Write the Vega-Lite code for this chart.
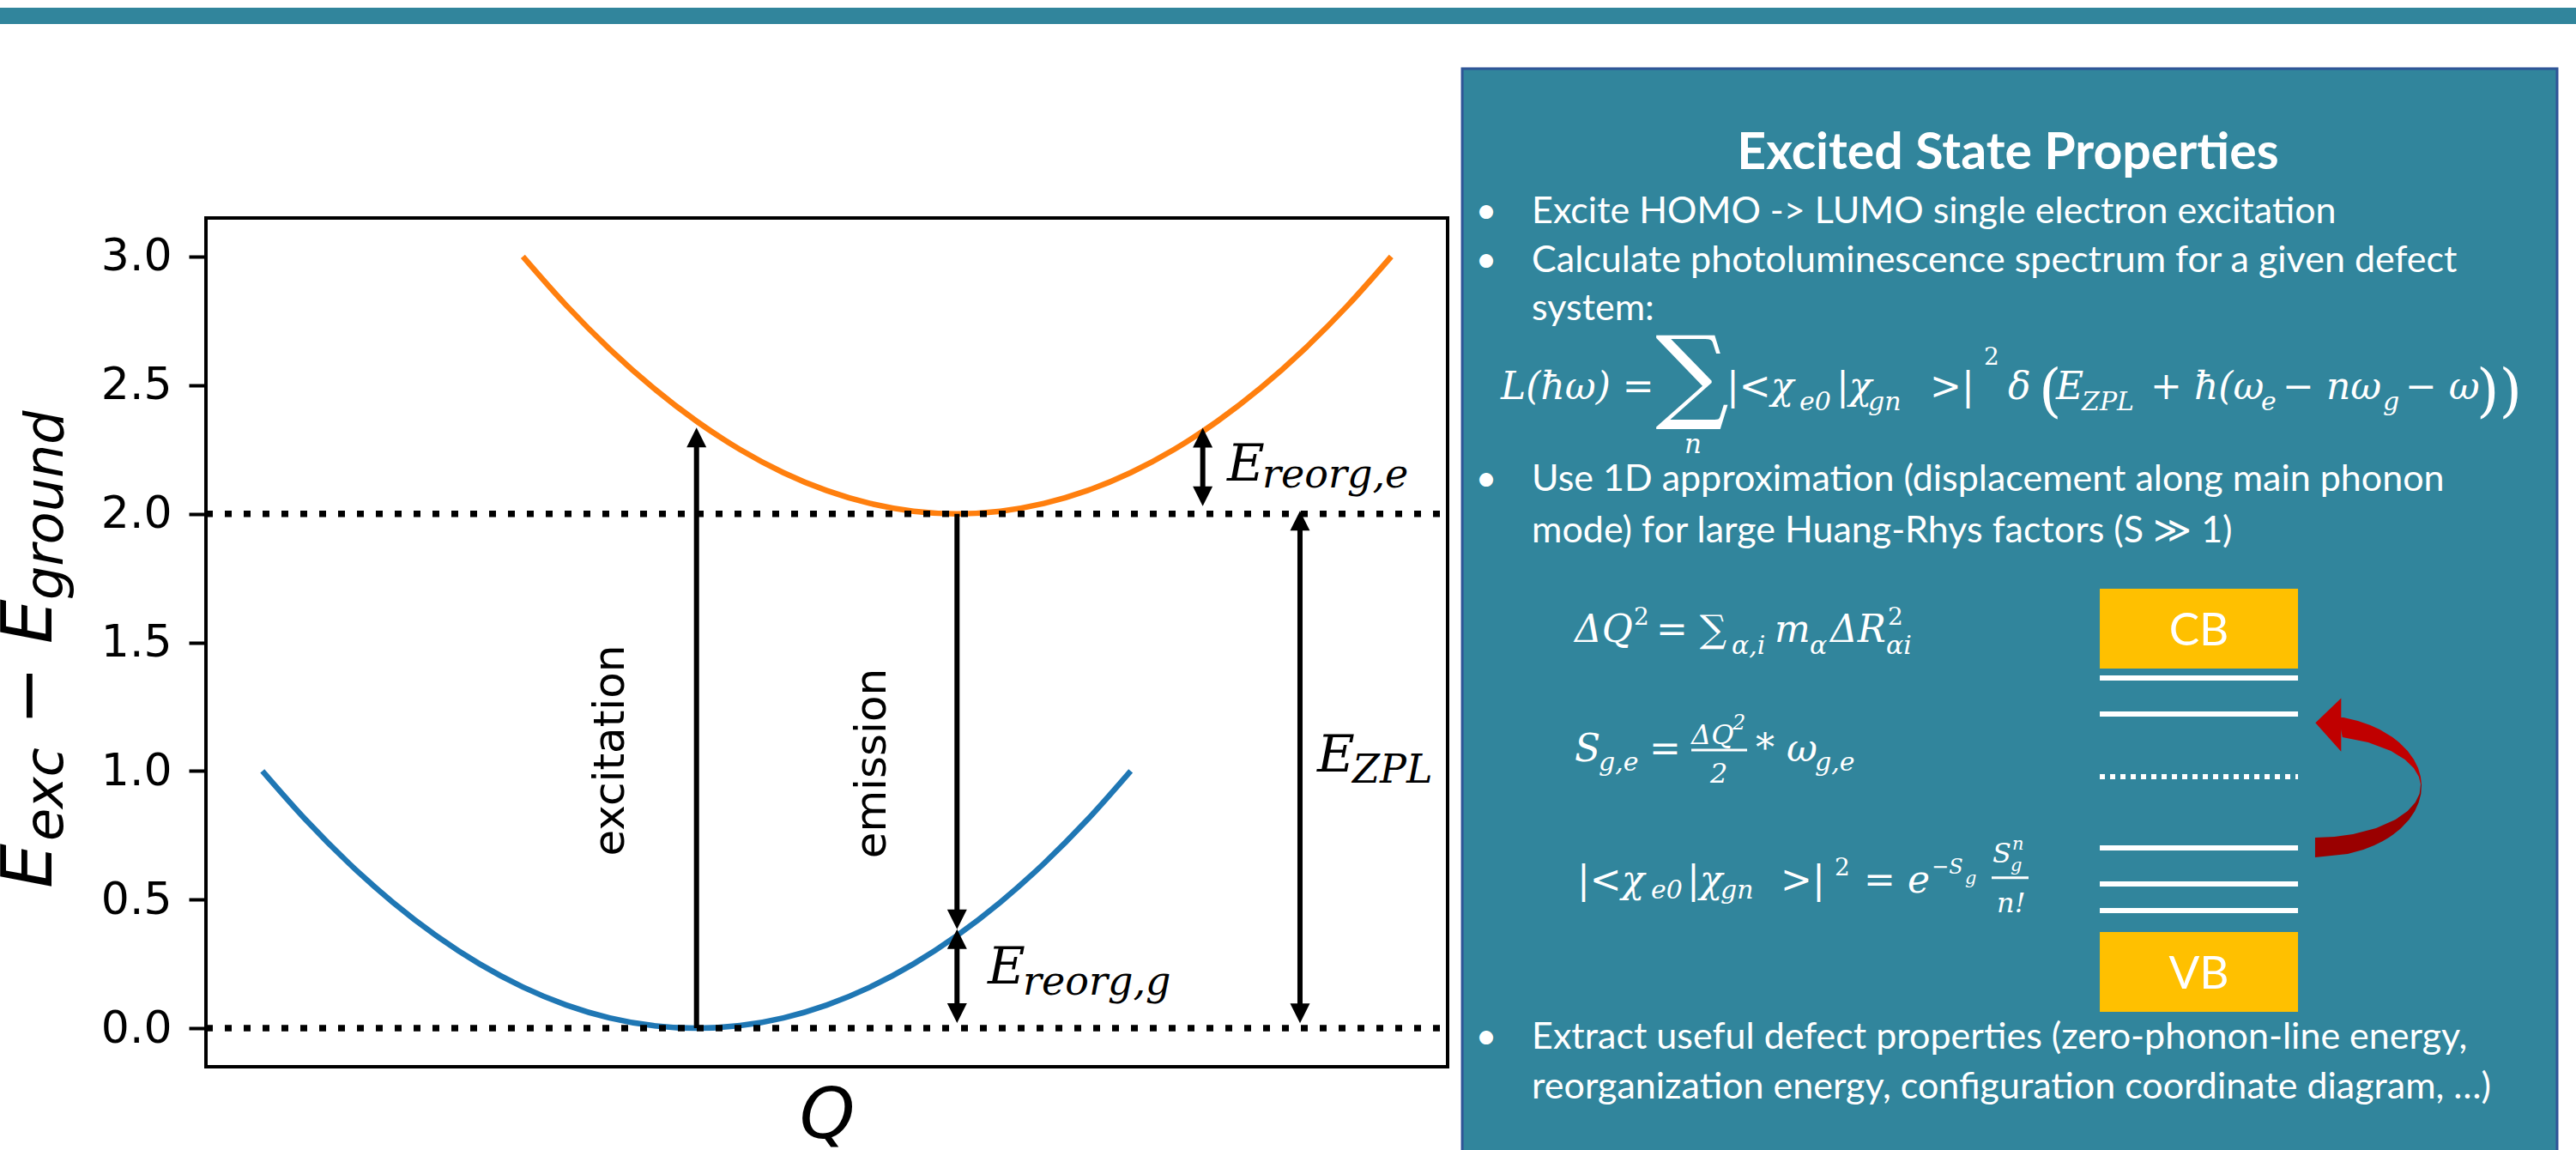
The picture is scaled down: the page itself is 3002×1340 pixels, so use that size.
{
  "$schema": "https://vega.github.io/schema/vega-lite/v6.json",
  "width": 1447,
  "height": 989,
  "autosize": {"type": "none"},
  "padding": {"left": 240, "top": 254, "right": 1315, "bottom": 97},
  "background": "white",
  "config": {"view": {"stroke": "black", "strokeWidth": 4}, "font": "DejaVu Sans"},
  "datasets": {
    "shapes": [
      {"role": "topbar", "Q": -1.7, "Q2": 4.4, "E": 3.9673, "E2": 3.9039},
      {"role": "panel", "Q": 1.7637, "Q2": 4.2856, "E": 3.7304, "E2": -0.5},
      {"role": "band", "Q": 3.2322, "Q2": 3.6888, "E": 1.7084, "E2": 1.3981},
      {"role": "band", "Q": 3.2322, "Q2": 3.6888, "E": 0.3737, "E2": 0.0634}
    ],
    "curves": [
      {"curve": "ground", "Q": -1.0, "E": 1.0}, {"curve": "ground", "Q": -0.9, "E": 0.81}, {"curve": "ground", "Q": -0.8, "E": 0.64},
      {"curve": "ground", "Q": -0.7, "E": 0.49}, {"curve": "ground", "Q": -0.6, "E": 0.36}, {"curve": "ground", "Q": -0.5, "E": 0.25},
      {"curve": "ground", "Q": -0.4, "E": 0.16}, {"curve": "ground", "Q": -0.3, "E": 0.09}, {"curve": "ground", "Q": -0.2, "E": 0.04},
      {"curve": "ground", "Q": -0.1, "E": 0.01}, {"curve": "ground", "Q": 0.0, "E": 0.0}, {"curve": "ground", "Q": 0.1, "E": 0.01},
      {"curve": "ground", "Q": 0.2, "E": 0.04}, {"curve": "ground", "Q": 0.3, "E": 0.09}, {"curve": "ground", "Q": 0.4, "E": 0.16},
      {"curve": "ground", "Q": 0.5, "E": 0.25}, {"curve": "ground", "Q": 0.6, "E": 0.36}, {"curve": "ground", "Q": 0.7, "E": 0.49},
      {"curve": "ground", "Q": 0.8, "E": 0.64}, {"curve": "ground", "Q": 0.9, "E": 0.81}, {"curve": "ground", "Q": 1.0, "E": 1.0},
      {"curve": "excited", "Q": -0.4, "E": 3.0}, {"curve": "excited", "Q": -0.3, "E": 2.81}, {"curve": "excited", "Q": -0.2, "E": 2.64},
      {"curve": "excited", "Q": -0.1, "E": 2.49}, {"curve": "excited", "Q": 0.0, "E": 2.36}, {"curve": "excited", "Q": 0.1, "E": 2.25},
      {"curve": "excited", "Q": 0.2, "E": 2.16}, {"curve": "excited", "Q": 0.3, "E": 2.09}, {"curve": "excited", "Q": 0.4, "E": 2.04},
      {"curve": "excited", "Q": 0.5, "E": 2.01}, {"curve": "excited", "Q": 0.6, "E": 2.0}, {"curve": "excited", "Q": 0.7, "E": 2.01},
      {"curve": "excited", "Q": 0.8, "E": 2.04}, {"curve": "excited", "Q": 0.9, "E": 2.09}, {"curve": "excited", "Q": 1.0, "E": 2.16},
      {"curve": "excited", "Q": 1.1, "E": 2.25}, {"curve": "excited", "Q": 1.2, "E": 2.36}, {"curve": "excited", "Q": 1.3, "E": 2.49},
      {"curve": "excited", "Q": 1.4, "E": 2.64}, {"curve": "excited", "Q": 1.5, "E": 2.81}, {"curve": "excited", "Q": 1.6, "E": 3.0}
    ],
    "levels": [
      {"Q": -1.13, "Q2": 1.73, "E": 0.0},
      {"Q": -1.13, "Q2": 1.73, "E": 2.0}
    ],
    "shafts": [
      {"arrow": "excitation", "Q": 0.0, "E": 0.0, "E2": 2.335, "kind": "up"},
      {"arrow": "emission", "Q": 0.6, "E": 0.385, "E2": 2.0, "kind": "down"},
      {"arrow": "reorg_g", "Q": 0.6, "E": 0.02, "E2": 0.385, "kind": "both"},
      {"arrow": "reorg_e", "Q": 1.166, "E": 2.03, "E2": 2.334, "kind": "both"},
      {"arrow": "zpl", "Q": 1.39, "E": 0.019, "E2": 2.011, "kind": "both"}
    ],
    "heads": [
      {"Q": 0.0, "E": 2.335, "dir": "up"},
      {"Q": 0.6, "E": 0.385, "dir": "down"},
      {"Q": 0.6, "E": 0.385, "dir": "up"},
      {"Q": 0.6, "E": 0.02, "dir": "down"},
      {"Q": 1.166, "E": 2.334, "dir": "up"},
      {"Q": 1.166, "E": 2.03, "dir": "down"},
      {"Q": 1.39, "E": 2.011, "dir": "up"},
      {"Q": 1.39, "E": 0.019, "dir": "down"}
    ],
    "texts": [
      {"role": "vlabel", "txt": "excitation", "Q": -0.1674, "E": 1.0794},
      {"role": "vlabel", "txt": "emission", "Q": 0.4354, "E": 1.0294},
      {"role": "ytitle", "txt": "E", "Q": -1.4857, "E": 0.5439},
      {"role": "ytitle", "txt": "− E", "Q": -1.4857, "E": 1.1778},
      {"role": "ytitleSub", "txt": "exc", "Q": -1.4601, "E": 0.7274},
      {"role": "ytitleSub", "txt": "ground", "Q": -1.4601, "E": 1.665},
      {"role": "eMain", "txt": "E", "Q": 1.2221, "E": 2.1288},
      {"role": "eSub", "txt": "reorg,e", "Q": 1.3033, "E": 2.1021},
      {"role": "eMain", "txt": "E", "Q": 1.4296, "E": 0.9977},
      {"role": "eSub", "txt": "ZPL", "Q": 1.5108, "E": 0.9543},
      {"role": "eMain", "txt": "E", "Q": 0.6706, "E": 0.1735},
      {"role": "eSub", "txt": "reorg,g", "Q": 0.7518, "E": 0.1301},
      {"role": "title", "txt": "Excited State Properties", "Q": 3.0207, "E": 3.3411},
      {"role": "bullet", "txt": "•", "Q": 1.819, "E": 3.1298},
      {"role": "bullet", "txt": "•", "Q": 1.819, "E": 2.9407},
      {"role": "bullet", "txt": "•", "Q": 1.819, "E": 2.0898},
      {"role": "bullet", "txt": "•", "Q": 1.819, "E": -0.0791},
      {"role": "body", "txt": "Excite HOMO -> LUMO single electron excitation", "Q": 1.9238, "E": 3.1298},
      {"role": "body", "txt": "Calculate photoluminescence spectrum for a given defect", "Q": 1.9238, "E": 2.9407},
      {"role": "body", "txt": "system:", "Q": 1.9238, "E": 2.7528},
      {"role": "body", "txt": "Use 1D approximation (displacement along main phonon", "Q": 1.9238, "E": 2.0898},
      {"role": "body", "txt": "mode) for large Huang-Rhys factors (S ≫ 1)", "Q": 1.9238, "E": 1.8896},
      {"role": "body", "txt": "Extract useful defect properties (zero-phonon-line energy,", "Q": 1.9238, "E": -0.0791},
      {"role": "body", "txt": "reorganization energy, configuration coordinate diagram, …)", "Q": 1.9238, "E": -0.2736},
      {"role": "band", "txt": "CB", "Q": 3.4605, "E": 1.4898},
      {"role": "band", "txt": "VB", "Q": 3.4605, "E": 0.1552},
      {"role": "eqMain", "txt": "L(ħω) =", "Q": 1.8526, "E": 2.4458},
      {"role": "eqMain", "txt": "|<χ", "Q": 2.3724, "E": 2.4458},
      {"role": "eqMain", "txt": "|χ", "Q": 2.6254, "E": 2.4458},
      {"role": "eqMain", "txt": ">|", "Q": 2.8409, "E": 2.4458},
      {"role": "eqMain", "txt": "δ", "Q": 3.0207, "E": 2.4458},
      {"role": "eqMain", "txt": "E", "Q": 3.1314, "E": 2.4458},
      {"role": "eqMain", "txt": "+ ħ(ω", "Q": 3.3488, "E": 2.4458},
      {"role": "eqMain", "txt": "− nω", "Q": 3.6532, "E": 2.4458},
      {"role": "eqMain", "txt": "− ω", "Q": 3.9358, "E": 2.4458},
      {"role": "eqSub", "txt": "e0", "Q": 2.5404, "E": 2.4024},
      {"role": "eqSub", "txt": "gn", "Q": 2.6985, "E": 2.4024},
      {"role": "eqSub", "txt": "ZPL", "Q": 3.1907, "E": 2.4024},
      {"role": "eqSub", "txt": "e", "Q": 3.6038, "E": 2.4024},
      {"role": "eqSub", "txt": "g", "Q": 3.8844, "E": 2.4024},
      {"role": "eqSup", "txt": "2", "Q": 2.9654, "E": 2.5793},
      {"role": "eqSum", "txt": "∑", "Q": 2.2933, "E": 2.5258},
      {"role": "eqUnder", "txt": "n", "Q": 2.2953, "E": 2.2356},
      {"role": "eqParen", "txt": "(", "Q": 3.0918, "E": 2.4024},
      {"role": "eqParen", "txt": "))", "Q": 4.0998, "E": 2.4024},
      {"role": "eqMain", "txt": "ΔQ", "Q": 2.0226, "E": 1.5015},
      {"role": "eqSup", "txt": "2", "Q": 2.159, "E": 1.5683},
      {"role": "eqMain", "txt": "= ∑", "Q": 2.2103, "E": 1.5015},
      {"role": "eqSub", "txt": "α,i", "Q": 2.3843, "E": 1.4548},
      {"role": "eqMain", "txt": "m", "Q": 2.4831, "E": 1.5015},
      {"role": "eqSub", "txt": "α", "Q": 2.5642, "E": 1.4548},
      {"role": "eqMain", "txt": "ΔR", "Q": 2.6116, "E": 1.5015},
      {"role": "eqSup", "txt": "2", "Q": 2.7441, "E": 1.5683},
      {"role": "eqSub", "txt": "αi", "Q": 2.7401, "E": 1.4548},
      {"role": "eqMain", "txt": "S", "Q": 2.0226, "E": 1.0377},
      {"role": "eqSub", "txt": "g,e", "Q": 2.078, "E": 1.001},
      {"role": "eqMain", "txt": "=", "Q": 2.1945, "E": 1.0377},
      {"role": "eqFrac", "txt": "ΔQ", "Q": 2.2914, "E": 1.1045},
      {"role": "eqTiny", "txt": "2", "Q": 2.3863, "E": 1.1612},
      {"role": "eqFrac", "txt": "2", "Q": 2.3349, "E": 0.9543},
      {"role": "eqMain", "txt": "* ω", "Q": 2.4396, "E": 1.0377},
      {"role": "eqSub", "txt": "g,e", "Q": 2.576, "E": 1.001},
      {"role": "eqMain", "txt": "|<χ", "Q": 2.0285, "E": 0.5272},
      {"role": "eqSub", "txt": "e0", "Q": 2.1985, "E": 0.5038},
      {"role": "eqMain", "txt": "|χ", "Q": 2.2815, "E": 0.5272},
      {"role": "eqSub", "txt": "gn", "Q": 2.3586, "E": 0.5038},
      {"role": "eqMain", "txt": ">|", "Q": 2.4969, "E": 0.5272},
      {"role": "eqSup", "txt": "2", "Q": 2.6215, "E": 0.5939},
      {"role": "eqMain", "txt": "= e", "Q": 2.6887, "E": 0.5272},
      {"role": "eqTiny", "txt": "−S", "Q": 2.8449, "E": 0.6006},
      {"role": "eqTiny2", "txt": "g", "Q": 2.9219, "E": 0.5606},
      {"role": "eqFrac", "txt": "S", "Q": 2.9851, "E": 0.644},
      {"role": "eqTiny2", "txt": "n", "Q": 3.0306, "E": 0.694},
      {"role": "eqTiny2", "txt": "g", "Q": 3.0267, "E": 0.6106},
      {"role": "eqFrac", "txt": "n!", "Q": 2.995, "E": 0.4505}
    ],
    "bars": [
      {"Q": 2.2914, "Q2": 2.4199, "E": 1.0811},
      {"Q": 2.9831, "Q2": 3.0681, "E": 0.5849}
    ],
    "statelines": [
      {"name": "c1", "Q": 3.2322, "Q2": 3.6888, "E": 1.3614},
      {"name": "c2", "Q": 3.2322, "Q2": 3.6888, "E": 1.2212},
      {"name": "mid", "Q": 3.2322, "Q2": 3.6888, "E": 0.9777},
      {"name": "v1", "Q": 3.2322, "Q2": 3.6888, "E": 0.7007},
      {"name": "v2", "Q": 3.2322, "Q2": 3.6888, "E": 0.5606},
      {"name": "v3", "Q": 3.2322, "Q2": 3.6888, "E": 0.4571}
    ],
    "redband": [
      {"part": "upper", "E": 1.2079, "Q": 3.7876, "Q2": 3.7935},
      {"part": "upper", "E": 1.1945, "Q": 3.7876, "Q2": 3.8267},
      {"part": "upper", "E": 1.1779, "Q": 3.7876, "Q2": 3.8552},
      {"part": "upper", "E": 1.1612, "Q": 3.7876, "Q2": 3.877},
      {"part": "upper", "E": 1.1311, "Q": 3.7911, "Q2": 3.9064},
      {"part": "upper", "E": 1.1111, "Q": 3.8504, "Q2": 3.9216},
      {"part": "upper", "E": 1.0778, "Q": 3.903, "Q2": 3.9414},
      {"part": "upper", "E": 1.0444, "Q": 3.935, "Q2": 3.9556},
      {"part": "upper", "E": 1.011, "Q": 3.9554, "Q2": 3.9655},
      {"part": "upper", "E": 0.9777, "Q": 3.967, "Q2": 3.9712},
      {"part": "upper", "E": 0.9476, "Q": 3.9714, "Q2": 3.9734},
      {"part": "lower", "E": 0.9476, "Q": 3.9714, "Q2": 3.9734},
      {"part": "lower", "E": 0.9109, "Q": 3.9686, "Q2": 3.972},
      {"part": "lower", "E": 0.8776, "Q": 3.9589, "Q2": 3.9668},
      {"part": "lower", "E": 0.8442, "Q": 3.9412, "Q2": 3.9579},
      {"part": "lower", "E": 0.8108, "Q": 3.9131, "Q2": 3.9447},
      {"part": "lower", "E": 0.7775, "Q": 3.8686, "Q2": 3.9261},
      {"part": "lower", "E": 0.7541, "Q": 3.8156, "Q2": 3.9091},
      {"part": "lower", "E": 0.7441, "Q": 3.7725, "Q2": 3.9006},
      {"part": "lower", "E": 0.7407, "Q": 3.7282, "Q2": 3.8977},
      {"part": "lower", "E": 0.7274, "Q": 3.7282, "Q2": 3.8844},
      {"part": "lower", "E": 0.7107, "Q": 3.7282, "Q2": 3.8645},
      {"part": "lower", "E": 0.694, "Q": 3.7282, "Q2": 3.8394},
      {"part": "lower", "E": 0.6774, "Q": 3.7282, "Q2": 3.8034},
      {"part": "lower", "E": 0.664, "Q": 3.7282, "Q2": 3.7282}
    ],
    "redhead": [
      {"Q": 3.7289, "E": 1.1869}
    ]
  },
  "encoding": {
    "x": {
      "field": "Q", "type": "quantitative",
      "scale": {"domain": [-1.13, 1.73], "nice": false, "zero": false},
      "axis": {"title": "Q", "labels": false, "ticks": false, "domain": false, "grid": false,
               "titleFont": "DejaVu Sans", "titleFontSize": 82, "titleFontStyle": "italic",
               "titleFontWeight": "normal", "titleColor": "black", "titlePadding": 17}
    },
    "y": {
      "field": "E", "type": "quantitative",
      "scale": {"domain": [-0.15, 3.15], "nice": false, "zero": false},
      "axis": {"title": null, "values": [0, 0.5, 1, 1.5, 2, 2.5, 3], "format": ".1f",
               "labelFont": "DejaVu Sans", "labelFontSize": 52, "labelColor": "black",
               "labelPadding": 20, "tickSize": 20, "tickWidth": 4, "tickColor": "black",
               "domain": false, "grid": false}
    }
  },
  "layer": [
    {
      "data": {"name": "shapes"},
      "transform": [{"filter": "datum.role === 'topbar'"}],
      "mark": {"type": "rect", "fill": "#31859C", "strokeWidth": 0},
      "encoding": {"x2": {"field": "Q2"}, "y2": {"field": "E2"}}
    },
    {
      "data": {"name": "shapes"},
      "transform": [{"filter": "datum.role === 'panel'"}],
      "mark": {"type": "rect", "fill": "#31859C", "stroke": "#2F5597", "strokeWidth": 3},
      "encoding": {"x2": {"field": "Q2"}, "y2": {"field": "E2"}}
    },
    {
      "data": {"name": "curves"},
      "transform": [{"filter": "datum.curve === 'ground'"}],
      "mark": {"type": "line", "color": "#1f77b4", "strokeWidth": 6.5, "interpolate": "monotone"}
    },
    {
      "data": {"name": "curves"},
      "transform": [{"filter": "datum.curve === 'excited'"}],
      "mark": {"type": "line", "color": "#ff7f0e", "strokeWidth": 6.5, "interpolate": "monotone"}
    },
    {
      "data": {"name": "levels"},
      "mark": {"type": "rule", "color": "black", "strokeWidth": 7.5, "strokeDash": [8, 14]},
      "encoding": {"x2": {"field": "Q2"}}
    },
    {
      "data": {"name": "shafts"},
      "transform": [{"filter": "datum.kind === 'up'"}],
      "mark": {"type": "rule", "color": "black", "strokeWidth": 6, "y2Offset": 18},
      "encoding": {"y2": {"field": "E2"}}
    },
    {
      "data": {"name": "shafts"},
      "transform": [{"filter": "datum.kind === 'down'"}],
      "mark": {"type": "rule", "color": "black", "strokeWidth": 6, "yOffset": -18},
      "encoding": {"y2": {"field": "E2"}}
    },
    {
      "data": {"name": "shafts"},
      "transform": [{"filter": "datum.kind === 'both'"}],
      "mark": {"type": "rule", "color": "black", "strokeWidth": 6, "yOffset": -18, "y2Offset": 18},
      "encoding": {"y2": {"field": "E2"}}
    },
    {
      "data": {"name": "heads"},
      "transform": [{"filter": "datum.dir === 'up'"}],
      "mark": {"type": "point", "shape": "M0,0L-1,2L1,2Z", "size": 529, "filled": true, "color": "black", "opacity": 1, "strokeWidth": 0}
    },
    {
      "data": {"name": "heads"},
      "transform": [{"filter": "datum.dir === 'down'"}],
      "mark": {"type": "point", "shape": "M0,0L-1,-2L1,-2Z", "size": 529, "filled": true, "color": "black", "opacity": 1, "strokeWidth": 0}
    },
    {
      "data": {"name": "texts"},
      "transform": [{"filter": "datum.role === 'vlabel'"}],
      "mark": {"type": "text", "font": "DejaVu Sans", "fontSize": 50, "color": "black", "angle": 270, "align": "center", "baseline": "alphabetic"},
      "encoding": {"text": {"field": "txt"}}
    },
    {
      "data": {"name": "texts"},
      "transform": [{"filter": "datum.role === 'ytitle'"}],
      "mark": {"type": "text", "font": "DejaVu Sans", "fontSize": 82, "fontStyle": "italic", "color": "black", "angle": 270, "align": "left", "baseline": "alphabetic"},
      "encoding": {"text": {"field": "txt"}}
    },
    {
      "data": {"name": "texts"},
      "transform": [{"filter": "datum.role === 'ytitleSub'"}],
      "mark": {"type": "text", "font": "DejaVu Sans", "fontSize": 62, "fontStyle": "italic", "color": "black", "angle": 270, "align": "left", "baseline": "alphabetic"},
      "encoding": {"text": {"field": "txt"}}
    },
    {
      "data": {"name": "texts"},
      "transform": [{"filter": "datum.role === 'eMain'"}],
      "mark": {"type": "text", "font": "DejaVu Serif", "fontSize": 60, "fontStyle": "italic", "color": "black", "align": "left", "baseline": "alphabetic"},
      "encoding": {"text": {"field": "txt"}}
    },
    {
      "data": {"name": "texts"},
      "transform": [{"filter": "datum.role === 'eSub'"}],
      "mark": {"type": "text", "font": "DejaVu Serif", "fontSize": 46, "fontStyle": "italic", "color": "black", "align": "left", "baseline": "alphabetic"},
      "encoding": {"text": {"field": "txt"}}
    },
    {
      "data": {"name": "texts"},
      "transform": [{"filter": "datum.role === 'title'"}],
      "mark": {"type": "text", "font": "Lato", "fontSize": 59, "fontWeight": "bold", "color": "white", "align": "center", "baseline": "alphabetic"},
      "encoding": {"text": {"field": "txt"}}
    },
    {
      "data": {"name": "texts"},
      "transform": [{"filter": "datum.role === 'body'"}],
      "mark": {"type": "text", "font": "Lato", "fontSize": 43, "color": "white", "align": "left", "baseline": "alphabetic"},
      "encoding": {"text": {"field": "txt"}}
    },
    {
      "data": {"name": "texts"},
      "transform": [{"filter": "datum.role === 'bullet'"}],
      "mark": {"type": "text", "font": "Lato", "fontSize": 43, "color": "white", "align": "center", "baseline": "alphabetic"},
      "encoding": {"text": {"field": "txt"}}
    },
    {
      "data": {"name": "shapes"},
      "transform": [{"filter": "datum.role === 'band'"}],
      "mark": {"type": "rect", "fill": "#FFC000", "strokeWidth": 0},
      "encoding": {"x2": {"field": "Q2"}, "y2": {"field": "E2"}}
    },
    {
      "data": {"name": "texts"},
      "transform": [{"filter": "datum.role === 'band'"}],
      "mark": {"type": "text", "font": "Lato", "fontSize": 53, "color": "white", "align": "center", "baseline": "alphabetic"},
      "encoding": {"text": {"field": "txt"}}
    },
    {
      "data": {"name": "statelines"},
      "transform": [{"filter": "datum.name !== 'mid'"}],
      "mark": {"type": "rule", "color": "white", "strokeWidth": 6},
      "encoding": {"x2": {"field": "Q2"}}
    },
    {
      "data": {"name": "statelines"},
      "transform": [{"filter": "datum.name === 'mid'"}],
      "mark": {"type": "rule", "color": "white", "strokeWidth": 6, "strokeDash": [6, 6]},
      "encoding": {"x2": {"field": "Q2"}}
    },
    {
      "data": {"name": "redband"},
      "transform": [{"filter": "datum.part === 'upper'"}],
      "mark": {"type": "area", "orient": "horizontal", "color": "#C00000", "opacity": 1},
      "encoding": {"x2": {"field": "Q2"}}
    },
    {
      "data": {"name": "redband"},
      "transform": [{"filter": "datum.part === 'lower'"}],
      "mark": {"type": "area", "orient": "horizontal", "color": "#9A0000", "opacity": 1},
      "encoding": {"x2": {"field": "Q2"}}
    },
    {
      "data": {"name": "redhead"},
      "mark": {"type": "point", "shape": "M0,0L2,-1.93L2,2.23Z", "size": 900, "filled": true, "color": "#C00000", "opacity": 1, "strokeWidth": 0}
    },
    {
      "data": {"name": "texts"},
      "transform": [{"filter": "datum.role === 'eqMain'"}],
      "mark": {"type": "text", "font": "DejaVu Serif", "fontSize": 44, "fontStyle": "italic", "color": "white", "align": "left", "baseline": "alphabetic"},
      "encoding": {"text": {"field": "txt"}}
    },
    {
      "data": {"name": "texts"},
      "transform": [{"filter": "datum.role === 'eqSub'"}],
      "mark": {"type": "text", "font": "DejaVu Serif", "fontSize": 30, "fontStyle": "italic", "color": "white", "align": "left", "baseline": "alphabetic"},
      "encoding": {"text": {"field": "txt"}}
    },
    {
      "data": {"name": "texts"},
      "transform": [{"filter": "datum.role === 'eqSup'"}],
      "mark": {"type": "text", "font": "DejaVu Serif", "fontSize": 28, "color": "white", "align": "left", "baseline": "alphabetic"},
      "encoding": {"text": {"field": "txt"}}
    },
    {
      "data": {"name": "texts"},
      "transform": [{"filter": "datum.role === 'eqSum'"}],
      "mark": {"type": "text", "font": "DejaVu Serif", "fontSize": 120, "color": "white", "align": "center", "baseline": "middle"},
      "encoding": {"text": {"field": "txt"}}
    },
    {
      "data": {"name": "texts"},
      "transform": [{"filter": "datum.role === 'eqUnder'"}],
      "mark": {"type": "text", "font": "DejaVu Serif", "fontSize": 31, "fontStyle": "italic", "color": "white", "align": "center", "baseline": "alphabetic"},
      "encoding": {"text": {"field": "txt"}}
    },
    {
      "data": {"name": "texts"},
      "transform": [{"filter": "datum.role === 'eqParen'"}],
      "mark": {"type": "text", "font": "DejaVu Serif", "fontSize": 68, "color": "white", "align": "left", "baseline": "alphabetic"},
      "encoding": {"text": {"field": "txt"}}
    },
    {
      "data": {"name": "texts"},
      "transform": [{"filter": "datum.role === 'eqFrac'"}],
      "mark": {"type": "text", "font": "DejaVu Serif", "fontSize": 32, "fontStyle": "italic", "color": "white", "align": "left", "baseline": "alphabetic"},
      "encoding": {"text": {"field": "txt"}}
    },
    {
      "data": {"name": "texts"},
      "transform": [{"filter": "datum.role === 'eqTiny'"}],
      "mark": {"type": "text", "font": "DejaVu Serif", "fontSize": 24, "fontStyle": "italic", "color": "white", "align": "left", "baseline": "alphabetic"},
      "encoding": {"text": {"field": "txt"}}
    },
    {
      "data": {"name": "texts"},
      "transform": [{"filter": "datum.role === 'eqTiny2'"}],
      "mark": {"type": "text", "font": "DejaVu Serif", "fontSize": 21, "fontStyle": "italic", "color": "white", "align": "left", "baseline": "alphabetic"},
      "encoding": {"text": {"field": "txt"}}
    },
    {
      "data": {"name": "bars"},
      "mark": {"type": "rule", "color": "white", "strokeWidth": 3},
      "encoding": {"x2": {"field": "Q2"}}
    }
  ]
}
